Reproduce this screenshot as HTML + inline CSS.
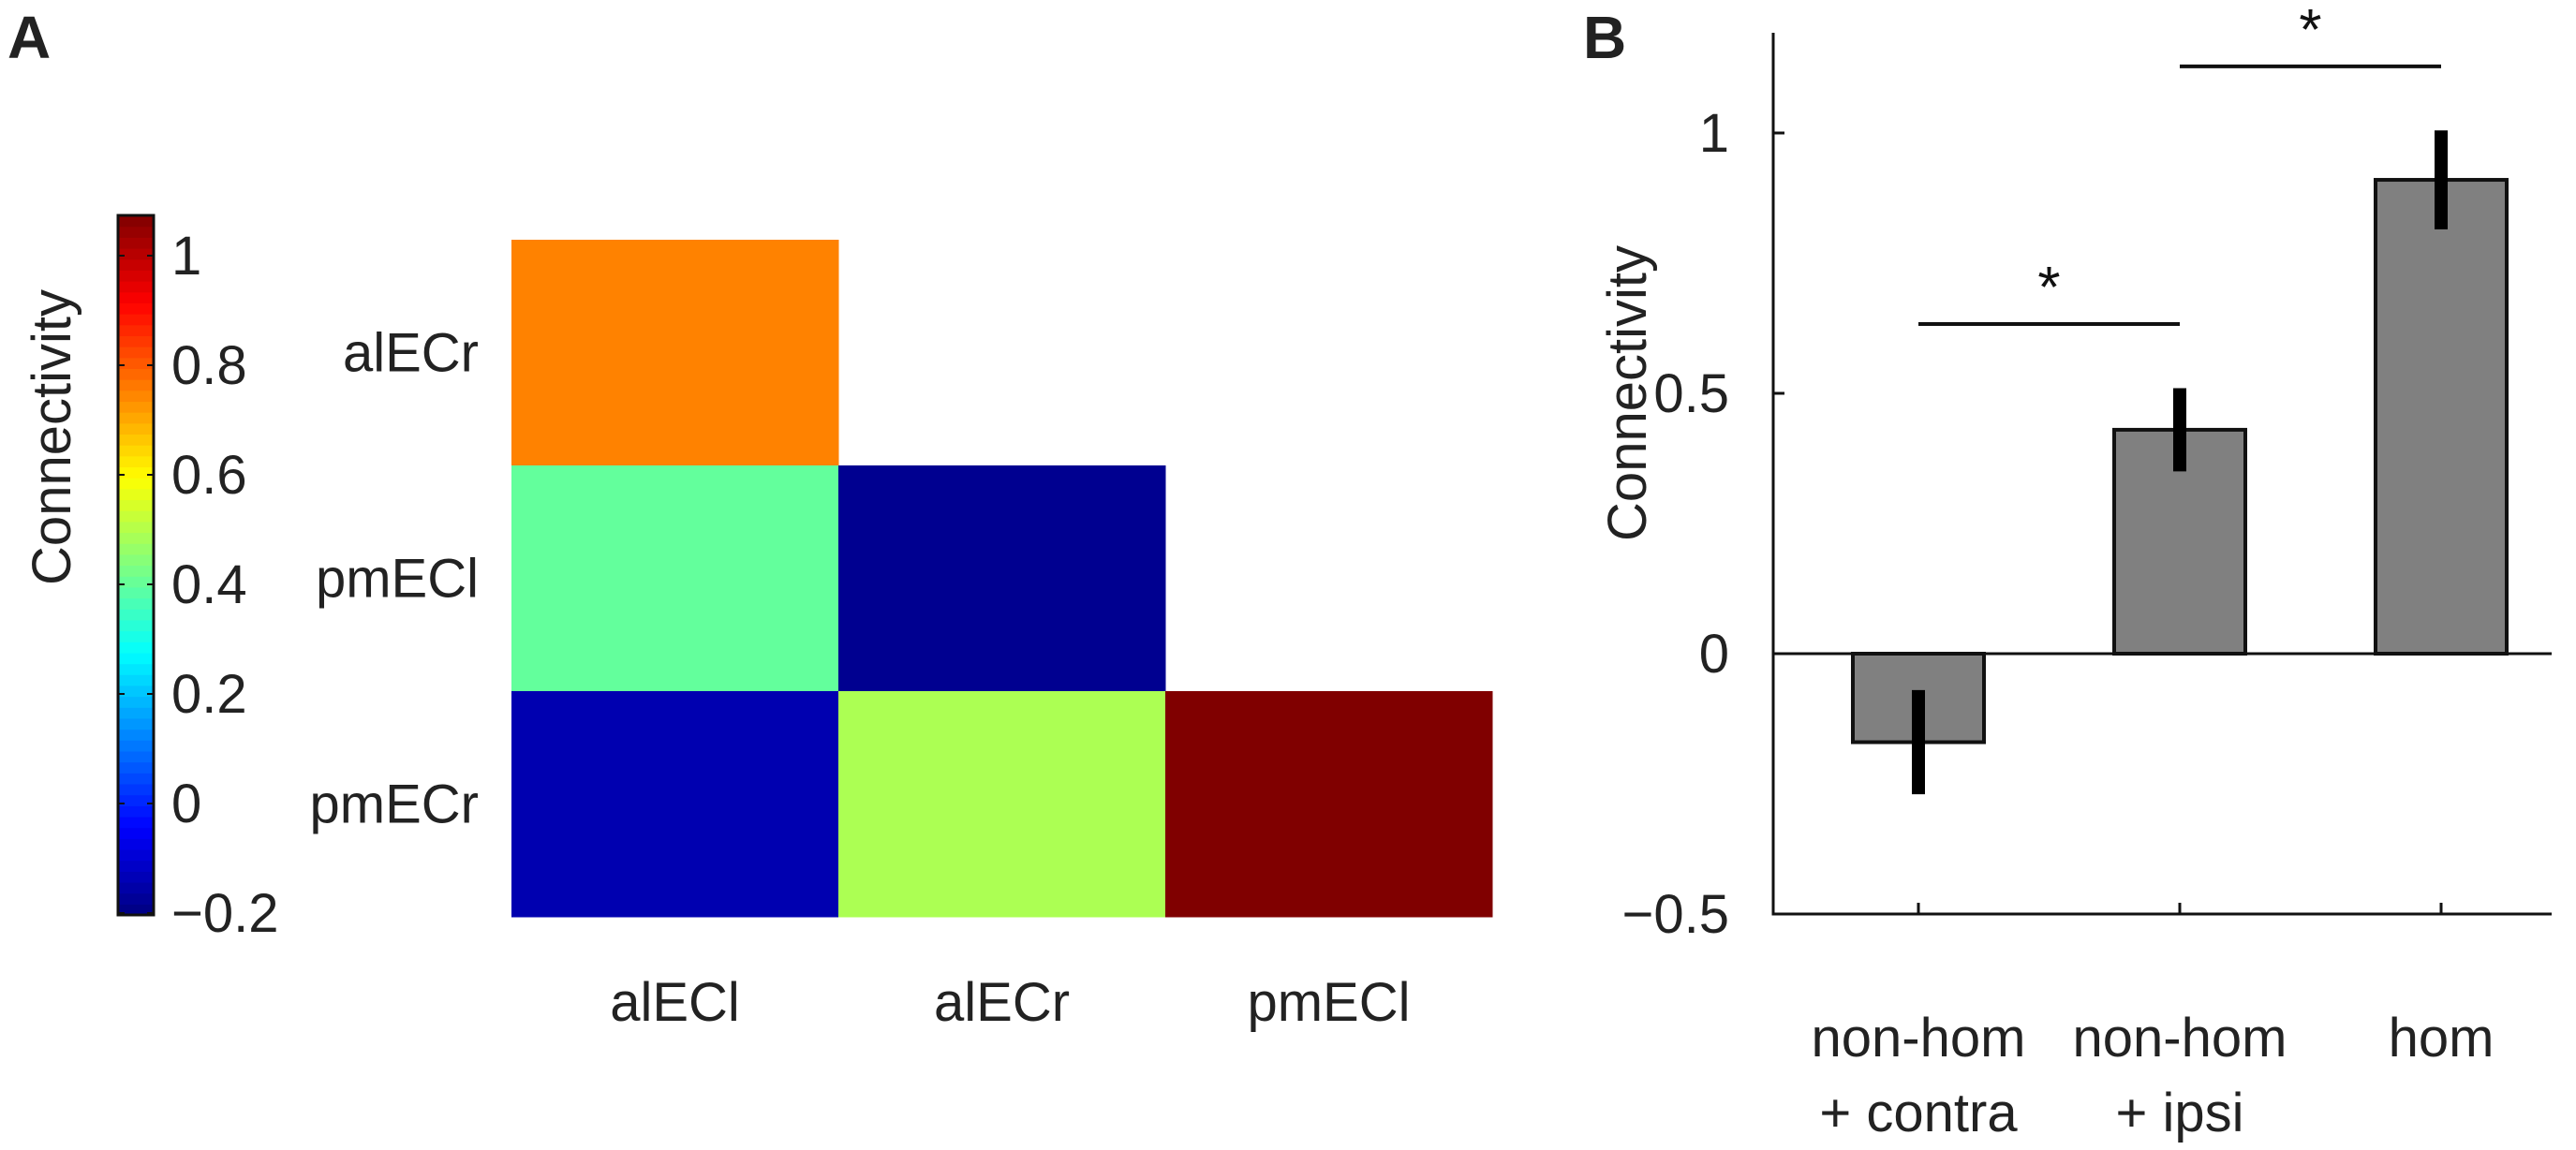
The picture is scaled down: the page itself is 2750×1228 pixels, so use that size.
<!DOCTYPE html>
<html><head><meta charset="utf-8"><style>
html,body{margin:0;padding:0;background:#fff;}
svg{display:block;font-family:"Liberation Sans",sans-serif;}
</style></head><body>
<svg id="fig" width="2750" height="1228" viewBox="0 0 2750 1228" xmlns="http://www.w3.org/2000/svg">
<text x="8" y="62" font-size="64" font-weight="bold" fill="#222">A</text>
<text x="1690" y="62" font-size="64" font-weight="bold" fill="#222">B</text>
<g id="pa"></g>
<g id="pb"></g>
</svg>
<script>
const NS="http://www.w3.org/2000/svg";
// Panel A data
const rowLabels=["alECr","pmECl","pmECr"];
const colLabels=["alECl","alECr","pmECl"];
const matrix=[[0.75,null,null],[0.40,-0.18,null],[-0.14,0.49,1.07]];
const cbTicks=[1,0.8,0.6,0.4,0.2,0,-0.2];
const cbTickLabels=["1","0.8","0.6","0.4","0.2","0","\u22120.2"];
// Panel B data
const categories=[["non-hom","+ contra"],["non-hom","+ ipsi"],["hom",""]];
const means=[-0.17,0.43,0.91];
const errs=[0.10,0.08,0.095];
const yTicks=[1,0.5,0,-0.5];
const yTickLabels=["1","0.5","0","\u22120.5"];
const sigPairs=[[0,1,0.633],[1,2,1.128]];

function el(tag,attrs,parent,text){const e=document.createElementNS(NS,tag);for(const k in attrs)e.setAttribute(k,attrs[k]);if(text!==undefined)e.textContent=text;parent.appendChild(e);return e;}
const CMIN=-0.2,CMAX=1.07;
function jet(v){const t=Math.max(0,Math.min(1,(v-CMIN)/(CMAX-CMIN)));const c=x=>Math.round(255*Math.max(0,Math.min(1,1.5-Math.abs(x))));return `rgb(${c(4*t-3)},${c(4*t-2)},${c(4*t-1)})`;}

const pa=document.getElementById('pa');
const cbX=126,cbW=38,cbTop=230,cbBot=977;
const cy=v=>273+(1-v)*585;
const N=64;
for(let i=0;i<N;i++){const v0=CMIN+(CMAX-CMIN)*i/N;const y1=cbBot-(cbBot-cbTop)*(i+1)/N,y0=cbBot-(cbBot-cbTop)*i/N;
const r=el('rect',{x:cbX,y:y1,width:cbW,height:y0-y1+0.6,fill:jet(v0+(CMAX-CMIN)/(2*N))},pa);

}
const cbb=el('rect',{x:cbX,y:cbTop,width:cbW,height:cbBot-cbTop,fill:'none',stroke:'#111','stroke-width':3},pa);


cbTicks.forEach((v,i)=>{const y=cy(v);
el('line',{x1:cbX,x2:cbX+7,y1:y,y2:y,stroke:'#111','stroke-width':2},pa);
el('line',{x1:cbX+cbW-7,x2:cbX+cbW,y1:y,y2:y,stroke:'#111','stroke-width':2},pa);
const t=el('text',{x:183,y:y+20,'font-size':58,fill:'#222'},pa,cbTickLabels[i]);

});
const cbt=el('text',{x:0,y:0,'font-size':58,fill:'#222','text-anchor':'middle',transform:'translate(75,467) rotate(-90)'},pa,'Connectivity');


const hx0=546,cw=349,hy0=256,ch=241;
matrix.forEach((row,r)=>row.forEach((v,c)=>{if(v===null)return;
const cell=el('rect',{x:hx0+c*cw,y:hy0+r*ch,width:cw+0.5,height:ch+0.5,fill:jet(v)},pa);

}));
rowLabels.forEach((l,r)=>{const t=el('text',{x:511,y:hy0+r*ch+ch/2+20,'font-size':58,fill:'#222','text-anchor':'end'},pa,l);

});
colLabels.forEach((l,c)=>{const t=el('text',{x:hx0+c*cw+cw/2,y:1090,'font-size':58,fill:'#222','text-anchor':'middle'},pa,l);

});

const pb=document.getElementById('pb');
const ax=1893,axR=2724,axTop=35;
const yv=v=>698-556*v;
const xc=i=>2048+i*279;
const bw=140;
means.forEach((m,i)=>{const y0=yv(0),y1=yv(m);
const b=el('rect',{x:xc(i)-bw/2,y:Math.min(y0,y1),width:bw,height:Math.abs(y1-y0),fill:'#808080',stroke:'#111','stroke-width':4},pb);

});
means.forEach((m,i)=>{const e=el('line',{x1:xc(i),x2:xc(i),y1:yv(m+errs[i]),y2:yv(m-errs[i]),stroke:'#000','stroke-width':14},pb);

});
el('line',{x1:ax,x2:ax,y1:axTop,y2:yv(-0.5)+1.5,stroke:'#111','stroke-width':3},pb);
el('line',{x1:ax,x2:axR,y1:yv(-0.5),y2:yv(-0.5),stroke:'#111','stroke-width':3},pb);
el('line',{x1:ax,x2:axR,y1:yv(0),y2:yv(0),stroke:'#111','stroke-width':3},pb);
yTicks.forEach((v,i)=>{const y=yv(v);
el('line',{x1:ax,x2:ax+12,y1:y,y2:y,stroke:'#111','stroke-width':3},pb);
const t=el('text',{x:1846,y:y+20,'font-size':58,fill:'#222','text-anchor':'end'},pb,yTickLabels[i]);

});
categories.forEach((c,i)=>{el('line',{x1:xc(i),x2:xc(i),y1:yv(-0.5),y2:yv(-0.5)-12,stroke:'#111','stroke-width':3},pb);
c.forEach((l,j)=>{if(!l)return;const t=el('text',{x:xc(i),y:1128+j*80,'font-size':58,fill:'#222','text-anchor':'middle'},pb,l);

});});
const yt=el('text',{x:0,y:0,'font-size':58,fill:'#222','text-anchor':'middle',transform:'translate(1757,420) rotate(-90)'},pb,'Connectivity');


sigPairs.forEach(([a,b,v])=>{const y=yv(v);
const l=el('line',{x1:xc(a),x2:xc(b),y1:y,y2:y,stroke:'#111','stroke-width':4},pb);


const s=el('text',{x:(xc(a)+xc(b))/2,y:y-18,'font-size':62,fill:'#111','text-anchor':'middle'},pb,'*');

});
</script>
</body></html>
